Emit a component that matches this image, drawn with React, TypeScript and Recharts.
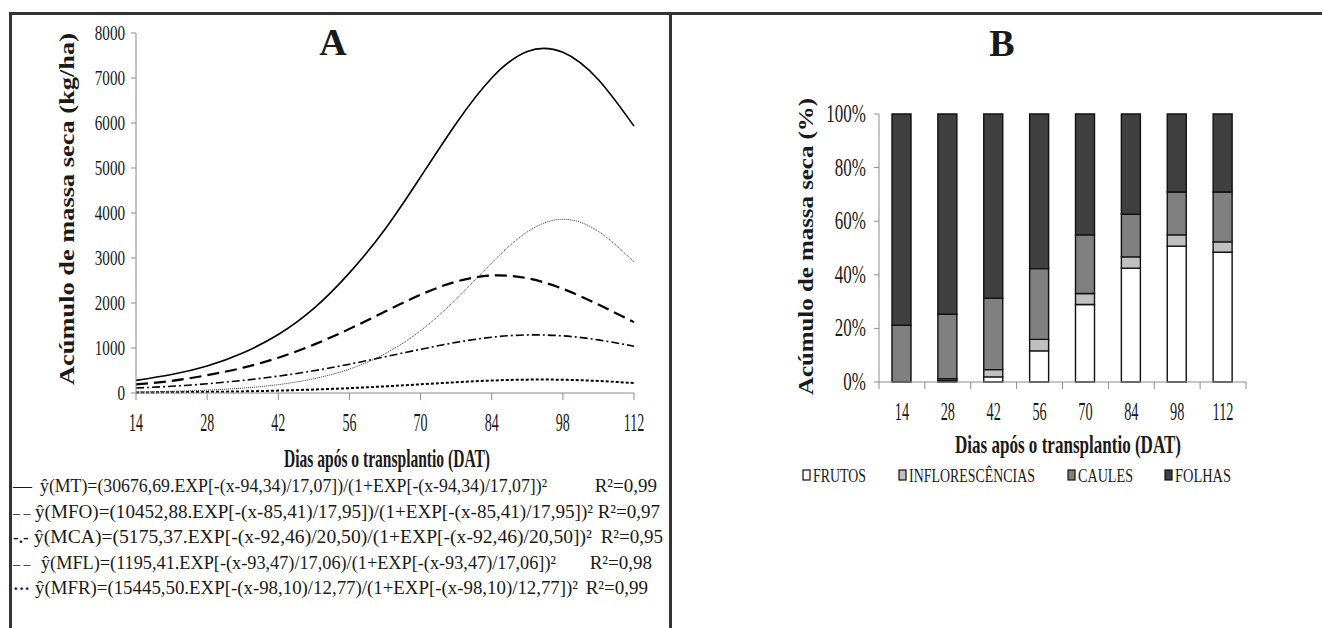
import React from "react";
import { LineChart, Line, XAxis, YAxis, BarChart, Bar } from "recharts";

// Painel A - acúmulo de massa seca (kg/ha)
const DIAS = [14, 21, 28, 35, 42, 49, 56, 63, 70, 77, 84, 91, 98, 105, 112];
const MT = [280, 410, 600, 890, 1300, 1880, 2670, 3640, 4800, 5990, 7000, 7590, 7570, 6960, 5930];
const MFO = [190, 270, 395, 560, 785, 1075, 1425, 1810, 2185, 2475, 2610, 2550, 2315, 1965, 1575];
const MCA = [110, 150, 205, 280, 375, 495, 640, 805, 970, 1125, 1240, 1290, 1270, 1180, 1040];
const MFL = [11, 17, 25, 36, 53, 77, 108, 147, 193, 239, 277, 297, 294, 267, 222];
const MFR = [21, 37, 63, 109, 186, 317, 531, 873, 1386, 2085, 2890, 3580, 3860, 3590, 2910];
const X_TICKS_A = [14, 28, 42, 56, 70, 84, 98, 112];
const Y_TICKS_A = [0, 1000, 2000, 3000, 4000, 5000, 6000, 7000, 8000];

// Painel B - distribuição percentual
const DIAS_B = ["14", "28", "42", "56", "70", "84", "98", "112"];
const FRUTOS = [0, 0.5, 1.9, 11.6, 28.9, 42.5, 50.7, 48.4];
const INFLOR = [0, 0.7, 2.7, 4.3, 4.1, 4.2, 4.2, 3.9];
const CAULES = [21.2, 24.1, 26.7, 26.4, 21.9, 15.9, 16.0, 18.6];
const FOLHAS = [78.8, 74.7, 68.7, 57.7, 45.1, 37.4, 29.1, 29.1];
const Y_TICKS_B = [0, 20, 40, 60, 80, 100];

const EQUATIONS = [
  { mark: "—", eq: "ŷ(MT)=(30676,69.EXP[-(x-94,34)/17,07])/(1+EXP[-(x-94,34)/17,07])²", r2: "R²=0,99" },
  { mark: "– –", eq: "ŷ(MFO)=(10452,88.EXP[-(x-85,41)/17,95])/(1+EXP[-(x-85,41)/17,95])²", r2: "R²=0,97" },
  { mark: "-.-", eq: "ŷ(MCA)=(5175,37.EXP[-(x-92,46)/20,50)/(1+EXP[-(x-92,46)/20,50])²", r2: "R²=0,95" },
  { mark: "– –", eq: "ŷ(MFL)=(1195,41.EXP[-(x-93,47)/17,06)/(1+EXP[-(x-93,47)/17,06])²", r2: "R²=0,98" },
  { mark: "···", eq: "ŷ(MFR)=(15445,50.EXP[-(x-98,10)/12,77)/(1+EXP[-(x-98,10)/12,77])²", r2: "R²=0,99" },
];

const LEGEND_B = [
  { name: "FRUTOS", color: "#ffffff" },
  { name: "INFLORESCÊNCIAS", color: "#c0c0c0" },
  { name: "CAULES", color: "#808080" },
  { name: "FOLHAS", color: "#404040" },
];

const lineData = DIAS.map((d, i) => ({
  d,
  mt: MT[i],
  mfo: MFO[i],
  mca: MCA[i],
  mfl: MFL[i],
  mfr: MFR[i],
}));

const barData = DIAS_B.map((dia, i) => ({
  dia,
  frutos: FRUTOS[i],
  inflor: INFLOR[i],
  caules: CAULES[i],
  folhas: FOLHAS[i],
}));

const SERIF = '"Liberation Serif", "Times New Roman", serif';
const INK = "#1a1a1a";
const AXIS = "#8c8c8c";

// texto "apertado" horizontalmente, como no original
const Cond = ({ x, y, sx, size, anchor, bold, children }: any) => (
  <text
    transform={`translate(${x},${y}) scale(${sx},1)`}
    textAnchor={anchor}
    fontFamily={SERIF}
    fontSize={size}
    fontWeight={bold ? "bold" : "normal"}
    fill={INK}
  >
    {children}
  </text>
);

const XTickA = (props: any) => (
  <Cond x={props.x} y={431} sx={0.54} size={26} anchor="middle">
    {props.payload.value}
  </Cond>
);

const YTickA = (props: any) => (
  <Cond x={125} y={props.y + 7} sx={0.72} size={21} anchor="end">
    {props.payload.value}
  </Cond>
);

const HALF_BAND = (1246 - 879) / 8 / 2;

const XTickB = (props: any) => {
  const { x, index } = props;
  return (
    <g>
      <line x1={x - HALF_BAND} x2={x - HALF_BAND} y1={382} y2={389} stroke={AXIS} />
      {index === DIAS_B.length - 1 && (
        <line x1={x + HALF_BAND} x2={x + HALF_BAND} y1={382} y2={389} stroke={AXIS} />
      )}
      <Cond x={x} y={420} sx={0.55} size={26} anchor="middle">
        {props.payload.value}
      </Cond>
    </g>
  );
};

const YTickB = (props: any) => (
  <Cond x={194} y={props.y + 8} sx={0.68} size={25} anchor="end">
    {props.payload.value}%
  </Cond>
);

const App: React.FC = () => {
  return (
    <div style={{ position: "absolute", left: 0, top: 0, width: 1322, height: 628, background: "#fff" }}>
      {/* A */}
      <div style={{ position: "absolute", left: 0, top: 0 }}>
        <LineChart width={670} height={440} data={lineData} margin={{ top: 33, right: 36, left: 76, bottom: 17 }}>
          <XAxis
            dataKey="d"
            type="number"
            domain={[14, 112]}
            ticks={X_TICKS_A}
            interval={0}
            stroke={AXIS}
            tickSize={7}
            height={30}
            tick={<XTickA />}
          />
          <YAxis
            type="number"
            domain={[0, 8000]}
            ticks={Y_TICKS_A}
            interval={0}
            stroke={AXIS}
            tickSize={5}
            width={60}
            tick={<YTickA />}
          />
          <Line dataKey="mt" type="natural" stroke="#000" strokeWidth={1.6} dot={false} isAnimationActive={false} />
          <Line dataKey="mfo" type="natural" stroke="#000" strokeWidth={2.2} strokeDasharray="12 6" dot={false} isAnimationActive={false} />
          <Line dataKey="mca" type="natural" stroke="#000" strokeWidth={1.6} strokeDasharray="8 3 2 3" dot={false} isAnimationActive={false} />
          <Line dataKey="mfl" type="natural" stroke="#000" strokeWidth={2} strokeDasharray="3 2" dot={false} isAnimationActive={false} />
          <Line dataKey="mfr" type="natural" stroke="#333" strokeWidth={1} strokeDasharray="1 1" dot={false} isAnimationActive={false} />
        </LineChart>
      </div>

      {/* B */}
      <div style={{ position: "absolute", left: 672, top: 0 }}>
        <BarChart width={650} height={440} data={barData} margin={{ top: 114, right: 76, left: 147, bottom: 28 }}>
          <XAxis dataKey="dia" stroke={AXIS} tickLine={false} height={30} interval={0} tick={<XTickB />} />
          <YAxis
            type="number"
            domain={[0, 100]}
            ticks={Y_TICKS_B}
            interval={0}
            stroke={AXIS}
            tickSize={5}
            width={60}
            tick={<YTickB />}
          />
          <Bar dataKey="frutos" stackId="s" barSize={19} fill="#ffffff" stroke="#111" strokeWidth={1.4} isAnimationActive={false} />
          <Bar dataKey="inflor" stackId="s" barSize={19} fill="#c0c0c0" stroke="#111" strokeWidth={1.4} isAnimationActive={false} />
          <Bar dataKey="caules" stackId="s" barSize={19} fill="#808080" stroke="#111" strokeWidth={1.4} isAnimationActive={false} />
          <Bar dataKey="folhas" stackId="s" barSize={19} fill="#404040" stroke="#111" strokeWidth={1.4} isAnimationActive={false} />
        </BarChart>
      </div>

      {/* moldura, títulos e legendas */}
      <svg width={1322} height={628} style={{ position: "absolute", left: 0, top: 0, pointerEvents: "none" }}>
        <line x1={9} x2={1322} y1={13.5} y2={13.5} stroke="#333" strokeWidth={3} />
        <line x1={10.5} x2={10.5} y1={12} y2={628} stroke="#333" strokeWidth={3} />
        <line x1={670.5} x2={670.5} y1={12} y2={628} stroke="#333" strokeWidth={3} />

        <text x={333} y={55} textAnchor="middle" fontFamily={SERIF} fontWeight="bold" fontSize={38} fill={INK}>A</text>
        <text x={1002} y={56} textAnchor="middle" fontFamily={SERIF} fontWeight="bold" fontSize={38} fill={INK}>B</text>

        <text
          transform="translate(74,385) rotate(-90)"
          fontFamily={SERIF}
          fontWeight="bold"
          fontSize={22}
          fill={INK}
          textLength={352}
          lengthAdjust="spacingAndGlyphs"
        >
          Acúmulo de massa seca (kg/ha)
        </text>
        <text
          transform="translate(813,395) rotate(-90)"
          fontFamily={SERIF}
          fontWeight="bold"
          fontSize={22}
          fill={INK}
          textLength={297}
          lengthAdjust="spacingAndGlyphs"
        >
          Acúmulo de massa seca (%)
        </text>

        <text x={284} y={467} fontFamily={SERIF} fontWeight="bold" fontSize={26} fill={INK} textLength={206} lengthAdjust="spacingAndGlyphs">
          Dias após o transplantio (DAT)
        </text>
        <text x={955} y={453} fontFamily={SERIF} fontWeight="bold" fontSize={26} fill={INK} textLength={226} lengthAdjust="spacingAndGlyphs">
          Dias após o transplantio (DAT)
        </text>

        {EQUATIONS.map((e, i) => {
          const y = 492 + i * 25.5;
          const eqX = [40, 35, 34, 41, 35][i];
          const eqW = [507, 558, 558, 515, 543][i];
          const markSize = [19, 14, 17, 14, 17][i];
          return (
            <g key={e.eq} fontFamily={SERIF} fontSize={19} fill={INK}>
              <text x={13} y={y} fontSize={markSize} fontWeight={i === 2 || i === 4 ? "bold" : "normal"}>
                {e.mark}
              </text>
              <text x={eqX} y={y} textLength={eqW} lengthAdjust="spacingAndGlyphs">{e.eq}</text>
              <text x={[657, 660, 663, 652, 648][i]} y={y} textAnchor="end">{e.r2}</text>
            </g>
          );
        })}

        {LEGEND_B.map((l, i) => {
          const x = [803, 899, 1068, 1165][i];
          const w = [53, 126, 55, 56][i];
          return (
            <g key={l.name}>
              <rect x={x} y={470} width={7} height={10} fill={l.color} stroke="#111" strokeWidth={1.2} />
              <text x={x + 10} y={482} fontFamily={SERIF} fontSize={19} fill={INK} textLength={w} lengthAdjust="spacingAndGlyphs">
                {l.name}
              </text>
            </g>
          );
        })}
      </svg>
    </div>
  );
};

export default App;
